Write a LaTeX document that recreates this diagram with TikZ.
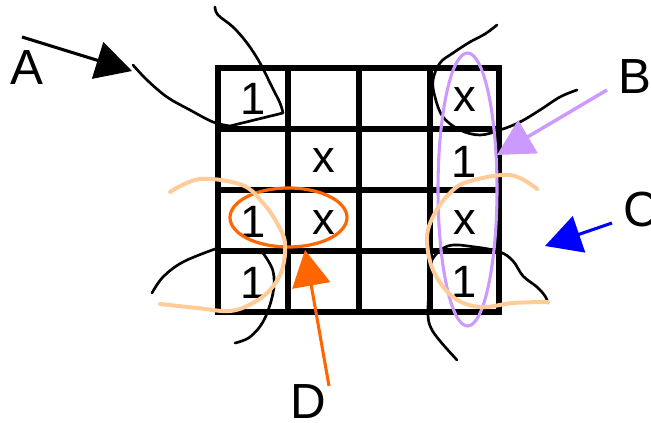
\documentclass[tikz,border=0pt]{standalone}
\usepackage{fontspec}
\setmainfont{Liberation Sans}
\usetikzlibrary{arrows.meta}
\definecolor{lilac}{RGB}{204,153,255}
\definecolor{peach}{RGB}{255,204,153}
\definecolor{kmorange}{RGB}{255,102,0}

\begin{document}
\begin{tikzpicture}[x=0.75pt,y=-0.75pt,
  gridline/.style={line width=4.2pt},
  hand/.style={line width=2pt, line cap=round, line join=round},
  cover/.style={line width=3pt, line cap=round, line join=round, color=peach},
  pointer/.style={line width=2.3pt, -{Triangle[length=27pt,width=28.5pt]}},
  cell/.style={font=\fontsize{34}{34}\selectfont, inner sep=0pt},
  tag/.style={font=\fontsize{37}{37}\selectfont, inner sep=0pt}]
\useasboundingbox (0,0) rectangle (651,423);

% Karnaugh map grid
\draw[gridline] (218,68) rectangle (499,312);
\foreach \x in {288,359,430} \draw[gridline] (\x,68) -- (\x,312);
\foreach \y in {129,190,251} \draw[gridline] (218,\y) -- (499,\y);

% cell entries
\node[cell] (c11) at (253,98.5) {1};
\node[cell] (c14) at (464.5,100) {x};
\node[cell] (c22) at (323.5,161) {x};
\node[cell] (c24) at (464.5,161.5) {1};
\node[cell] (c31) at (253,222) {1};
\node[cell] (c32) at (323.5,223) {x};
\node[cell] (c34) at (464.5,223) {x};
\node[cell] (c41) at (253,283) {1};
\node[cell] (c44) at (464.5,282) {1};

% hand-drawn groupings wrapping round the corners
\draw[hand] plot[smooth, tension=0.6] coordinates {(133,65) (147,80) (167,97) (190,110) (213,122) (230,126)}
  -- (283,113)
  plot[smooth, tension=0.6] coordinates {(283,113) (280,103) (272,87) (260,63) (247,43) (233,27) (218,15) (215,7)};
\draw[hand] plot[smooth, tension=0.6] coordinates {(497,25) (485,34) (470,42) (453,53) (440,63) (433,80) (435,97) (443,117) (460,130) (480,135) (500,130) (520,122) (540,110) (560,97) (577,90)};
\draw[hand] plot[smooth, tension=0.6] coordinates {(152,293) (163,277) (183,262) (215,249)}
  -- (263,253)
  plot[smooth, tension=0.6] coordinates {(263,253) (273,271) (273,293) (264,320) (250,337) (235,343)};
\draw[hand] plot[smooth, tension=0.6] coordinates {(457,360) (440,341) (431,328) (428,315) (429,290) (431,262) (448,246) (475,247) (500,252) (513,261) (523,276) (537,287) (545,296) (548,303)};

% group loops
\draw[kmorange, line width=2.4pt] (288.5,217.5) ellipse [x radius=58.5, y radius=29.5];
\draw[lilac, line width=2.3pt] (467.5,189.5) ellipse [x radius=29.5, y radius=136.5];
\draw[cover] plot[smooth, tension=0.6] coordinates {(170,192) (200,179) (242,185) (263,203) (277,223) (285,243) (282,270) (270,290) (253,303) (230,311) (197,308) (160,304)};
\draw[cover] plot[smooth, tension=0.6] coordinates {(537,189) (510,175) (467,182) (449,194) (435,213) (427,237) (433,270) (453,297) (480,307) (513,303) (548,302)};

% labels and pointers
\node[tag] (A) at (27,68) {A};
\node[tag] (B) at (635,77) {B};
\node[tag] (C) at (641,210) {C};
\node[tag] (D) at (308,401.5) {D};
\coordinate (Atail) at (22,37);   \coordinate (Ahead) at (132,71);
\coordinate (Btail) at (607,90);  \coordinate (Bhead) at (497,155);
\coordinate (Ctail) at (612,223); \coordinate (Chead) at (545,246);
\coordinate (Dtail) at (329,386); \coordinate (Dhead) at (305,250);
\draw[pointer] (Atail) -- (Ahead);
\draw[pointer, lilac, line width=2.6pt] (Btail) -- (Bhead);
\draw[pointer, blue] (Ctail) -- (Chead);
\draw[pointer, kmorange] (Dtail) -- (Dhead);
\end{tikzpicture}
\end{document}
